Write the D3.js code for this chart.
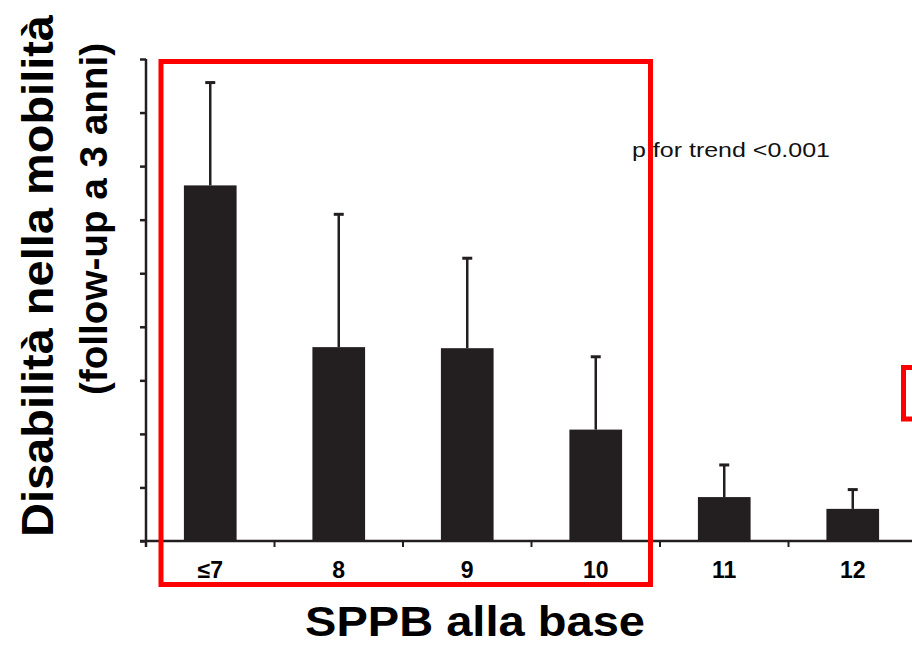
<!DOCTYPE html>
<html>
<head>
<meta charset="utf-8">
<script src="https://cdn.jsdelivr.net/npm/d3@7"></script>
<style>
  body { margin: 0; background: #fff; }
  svg { display: block; font-family: "Liberation Sans", Arial, sans-serif; }
</style>
</head>
<body>
<div id="chart"></div>
<script>
// data (y scale has no labels, read as 0-45)
var categories = ["≤7", "8", "9", "10", "11", "12"];
var means = [33.2, 18.1, 18.0, 10.4, 4.1, 3.0];
var upper = [42.8, 30.5, 26.4, 17.2, 7.1, 4.8];
var yTicks = [0, 5, 10, 15, 20, 25, 30, 35, 40, 45];

var svgWidth = 912, svgHeight = 654;

var svg = d3.select("#chart").append("svg")
  .attr("width", svgWidth)
  .attr("height", svgHeight);

// scales
var x = d3.scaleBand()
  .domain(categories)
  .range([146, 917])
  .paddingInner(0.59)
  .paddingOuter(0.295);

var y = d3.scaleLinear()
  .domain([0, 45])
  .range([541, 59]);

var ink = "#231f20";

// bars
svg.append("g").selectAll("rect")
  .data(categories)
  .enter()
  .append("rect")
  .attr("x", d => x(d))
  .attr("width", x.bandwidth())
  .attr("y", (d, i) => y(means[i]))
  .attr("height", (d, i) => y(0) - y(means[i]))
  .attr("fill", ink);

// error bars
var err = svg.append("g").attr("stroke", ink).attr("stroke-width", 2.5);
categories.forEach(function(c, i) {
  var cx = x(c) + x.bandwidth() / 2;
  err.append("line")
    .attr("x1", cx).attr("x2", cx)
    .attr("y1", y(means[i])).attr("y2", y(upper[i]));
  err.append("line")
    .attr("x1", cx - 5).attr("x2", cx + 5)
    .attr("y1", y(upper[i])).attr("y2", y(upper[i]))
    .attr("stroke-width", 3);
});

// y axis, no labels
var leftAxis = d3.axisLeft(y).tickValues(yTicks).tickSize(6).tickSizeOuter(0).tickFormat("");
var yg = svg.append("g")
  .attr("transform", "translate(146,0)")
  .call(leftAxis);
yg.select(".domain").attr("stroke", ink).attr("stroke-width", 2.5).attr("d", "M0,59V547");
yg.selectAll(".tick line").attr("stroke", ink).attr("stroke-width", 2.5);

// x axis: line, boundary ticks, labels
var xg = svg.append("g").attr("transform", "translate(0,541)");
xg.append("line")
  .attr("x1", 140).attr("x2", 917)
  .attr("stroke", ink).attr("stroke-width", 2.5);
var step = x.step();
var bounds = categories.map(c => x(c) - x.paddingInner() * step / 2);
bounds.push(bounds[bounds.length - 1] + step);
xg.selectAll("line.tk")
  .data(bounds)
  .enter()
  .append("line")
  .attr("class", "tk")
  .attr("x1", d => d).attr("x2", d => d)
  .attr("y1", 0).attr("y2", 6)
  .attr("stroke", ink).attr("stroke-width", 2);
xg.selectAll("text")
  .data(categories)
  .enter()
  .append("text")
  .attr("x", d => x(d) + x.bandwidth() / 2)
  .attr("y", 37)
  .attr("text-anchor", "middle")
  .attr("font-size", 23)
  .attr("font-weight", "bold")
  .attr("fill", "#000")
  .text(d => d);

// annotation
svg.append("text")
  .attr("x", 632).attr("y", 157)
  .attr("font-size", 21)
  .attr("textLength", 198)
  .attr("lengthAdjust", "spacingAndGlyphs")
  .attr("fill", "#111")
  .text("p for trend <0.001");

// axis titles
svg.append("text")
  .attr("x", 475).attr("y", 636)
  .attr("text-anchor", "middle")
  .attr("font-size", 42)
  .attr("font-weight", "bold")
  .attr("textLength", 340)
  .attr("lengthAdjust", "spacingAndGlyphs")
  .text("SPPB alla base");

svg.append("text")
  .attr("transform", "translate(53,276) rotate(-90)")
  .attr("text-anchor", "middle")
  .attr("font-size", 44)
  .attr("font-weight", "bold")
  .attr("textLength", 522)
  .attr("lengthAdjust", "spacingAndGlyphs")
  .text("Disabilità nella mobilità");

svg.append("text")
  .attr("transform", "translate(107,219) rotate(-90)")
  .attr("text-anchor", "middle")
  .attr("font-size", 39)
  .attr("font-weight", "bold")
  .attr("textLength", 352)
  .attr("lengthAdjust", "spacingAndGlyphs")
  .text("(follow-up a 3 anni)");

// red highlight boxes
svg.append("rect")
  .attr("x", 161).attr("y", 61.5)
  .attr("width", 650.5 - 161).attr("height", 584.5 - 61.5)
  .attr("fill", "none").attr("stroke", "#ff0000").attr("stroke-width", 5);
svg.append("rect")
  .attr("x", 903.5).attr("y", 367.5)
  .attr("width", 40).attr("height", 51.5)
  .attr("fill", "none").attr("stroke", "#ff0000").attr("stroke-width", 5);
</script>
</body>
</html>
